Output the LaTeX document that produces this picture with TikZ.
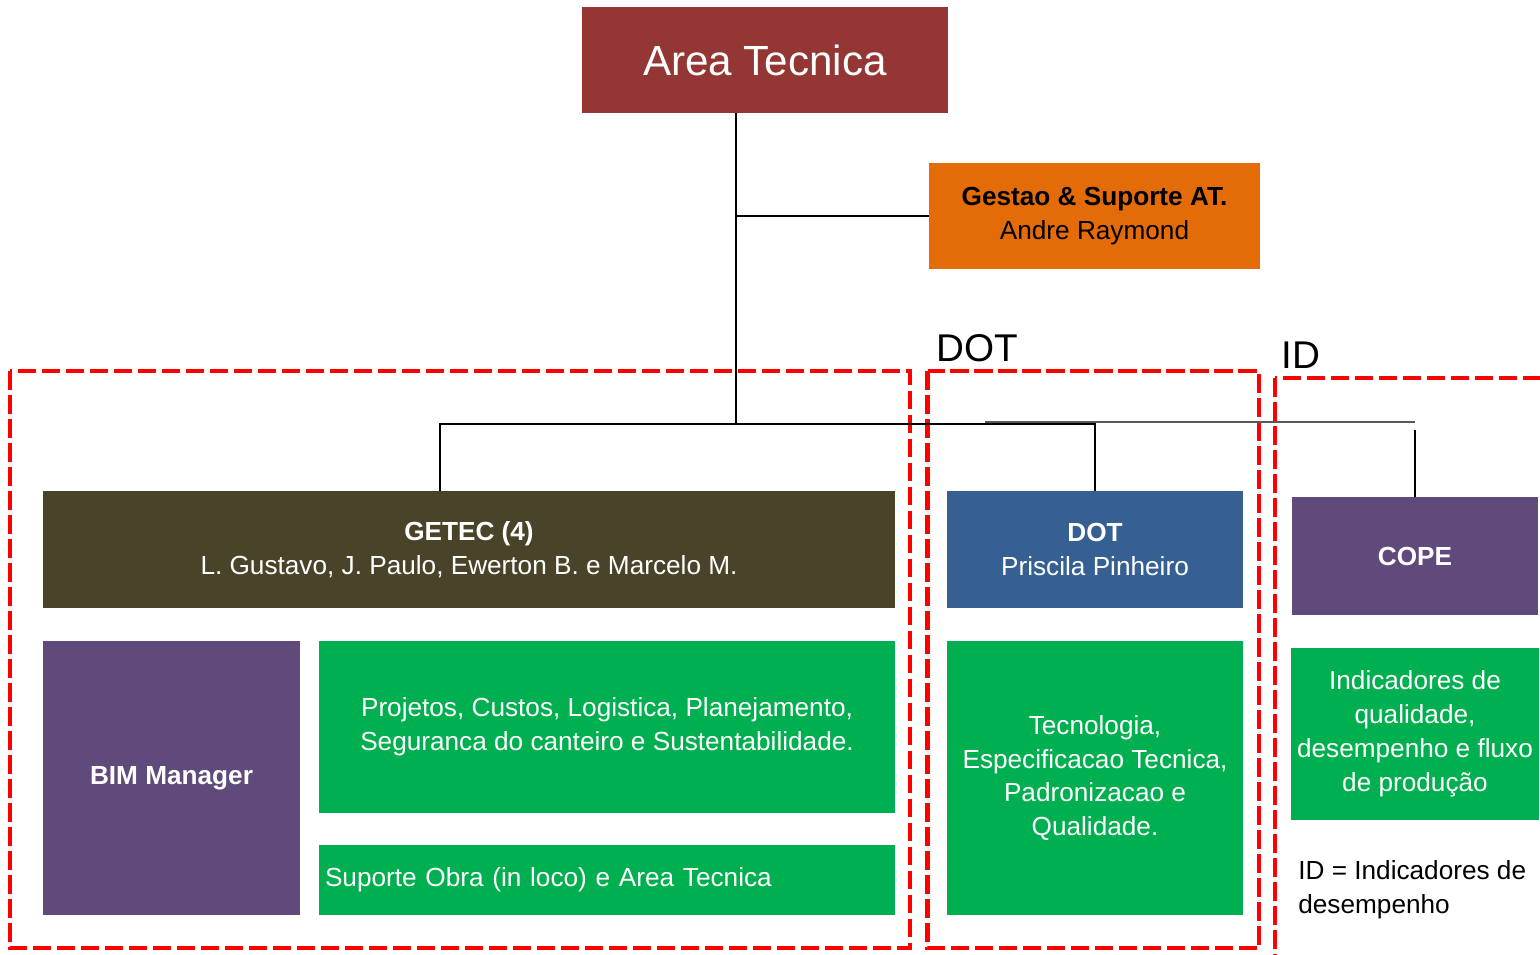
\documentclass[tikz,border=0pt]{standalone}
\usepackage{fontspec}
\setmainfont{Liberation Sans}
\usepackage{tikz}
\definecolor{areaRed}{HTML}{943634}
\definecolor{gestOrange}{HTML}{E36C09}
\definecolor{getecOlive}{HTML}{494429}
\definecolor{dotBlue}{HTML}{366092}
\definecolor{copePurple}{HTML}{604A7B}
\definecolor{taskGreen}{HTML}{00B050}
\newcommand{\bodyfont}{\fontsize{14.9}{19.3}\selectfont}
\tikzstyle{oTop} = [rectangle, minimum width=7.32cm, minimum height=2.12cm, text centered, fill=areaRed, text=white, font=\fontsize{24}{28}\selectfont]
\tikzstyle{oSub} = [rectangle, minimum width=6.62cm, minimum height=2.12cm, align=center, fill=gestOrange, text=black, font=\bodyfont]
\tikzstyle{oUnit} = [rectangle, minimum width=17.04cm, minimum height=2.34cm, align=center, text=white, font=\bodyfont]
\tikzstyle{oTask} = [rectangle, minimum width=11.52cm, minimum height=3.44cm, align=center, fill=taskGreen, text=white, font=\bodyfont]
\tikzstyle{oTag} = [font=\fontsize{22}{26}\selectfont, inner sep=0pt]
\tikzstyle{oLine} = [line width=1.1pt]
\tikzstyle{oThin} = [line width=0.8pt, black!65]
\tikzstyle{oGroup} = [red, line width=2.4pt, dash pattern=on 0.37cm off 0.11cm]

\begin{document}
\begin{tikzpicture}[node distance=2cm]
    \useasboundingbox (0,0) rectangle (30.8,-19.08);
    \node (area) [oTop] at (15.3,-1.2) {Area Tecnica};
    \node (gestao) [oSub, below of=area, xshift=6.59cm, yshift=-1.12cm] {\textbf{Gestao \& Suporte AT.}\\Andre Raymond};
    \node (getec) [oUnit, fill=getecOlive, below of=area, xshift=-5.92cm, yshift=-7.79cm] {\textbf{GETEC (4)}\\L. Gustavo, J. Paulo, Ewerton B. e Marcelo M.};
    \node (dot) [oUnit, fill=dotBlue, minimum width=5.92cm, right of=getec, xshift=10.52cm] {\textbf{DOT}\\Priscila Pinheiro};
    \node (cope) [oUnit, fill=copePurple, minimum width=4.92cm, minimum height=2.36cm, right of=dot, xshift=4.4cm, yshift=-0.13cm] {\textbf{COPE}};
    \node (bim) [oTask, fill=copePurple, minimum width=5.14cm, minimum height=5.48cm, below of=getec, xshift=-5.95cm, yshift=-2.57cm] {\textbf{BIM Manager}};
    \node (projetos) [oTask, below of=getec, xshift=2.76cm, yshift=-1.55cm] {Projetos, Custos, Logistica, Planejamento,\\Seguranca do canteiro e Sustentabilidade.};
    \node (suporte) [oTask, below of=projetos, yshift=-1.06cm, minimum height=1.4cm, text width=11.28cm, inner xsep=0.12cm, align=left] {Suporte Obra (in loco) e Area Tecnica};
    \node (tecno) [oTask, minimum width=5.92cm, minimum height=5.48cm, below of=dot, yshift=-2.57cm] {Tecnologia,\\Especificacao Tecnica,\\Padronizacao e\\Qualidade.};
    \node (indic) [oTask, minimum width=4.92cm, below of=cope, yshift=-1.56cm] {Indicadores de\\qualidade,\\desempenho e fluxo\\de produção};
    \node (idnote) [anchor=west, align=left, inner sep=0pt, font=\bodyfont] at (25.96,-17.8) {ID = Indicadores de\\desempenho};

    % groups
    \draw [oGroup] (0.2,-7.42) rectangle (18.2,-18.96);
    \draw [oGroup] (18.55,-7.42) rectangle (25.18,-18.96);
    \draw [oGroup] (25.5,-7.56) rectangle (31.2,-19.4);
    \node (dottag) [oTag] at (19.54,-6.96) {DOT};
    \node (idtag) [oTag] at (26.02,-7.1) {ID};

    % connectors
    \coordinate (trunk) at (14.72,-8.48);
    \coordinate (busL) at (8.8,-8.48);
    \coordinate (grayL) at (19.7,-8.44);
    \draw [oLine] (trunk |- area.south) -- (trunk);
    \draw [oLine] (trunk |- gestao.west) -- (gestao.west);
    \draw [oLine] (busL |- getec.north) -- (busL) -- (busL -| dot.north) -- (dot.north);
    \draw [oThin] (grayL) -- (grayL -| cope.north);
    \draw [oLine] ([yshift=-0.16cm]grayL -| cope.north) -- (cope.north);
\end{tikzpicture}
\end{document}
